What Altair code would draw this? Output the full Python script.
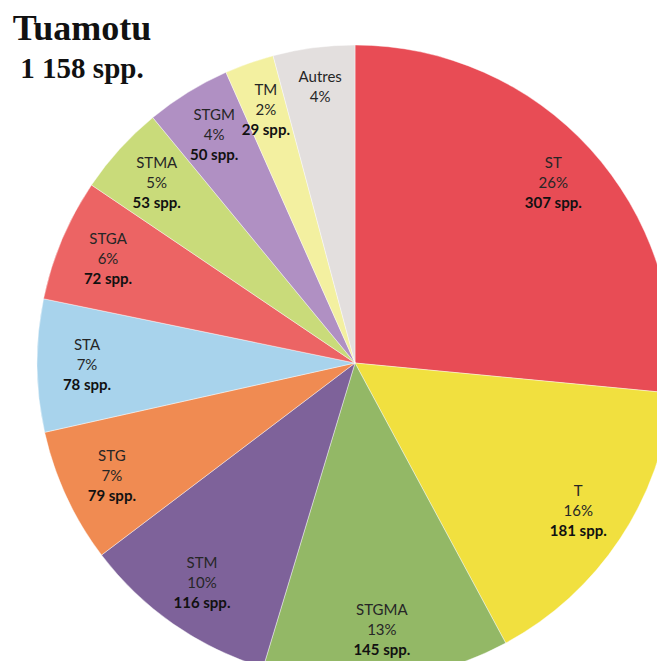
import altair as alt
import pandas as pd

categories = ["ST", "T", "STGMA", "STM", "STG", "STA", "STGA", "STMA", "STGM", "TM", "Autres"]
species = [307, 181, 145, 116, 79, 78, 72, 53, 50, 29, 48]
pct_labels = ["26%", "16%", "13%", "10%", "7%", "7%", "6%", "5%", "4%", "2%", "4%"]
count_labels = ["307 spp.", "181 spp.", "145 spp.", "116 spp.", "79 spp.", "78 spp.", "72 spp.", "53 spp.", "50 spp.", "29 spp.", ""]
colors = ["#E84C55", "#F1E03F", "#93B866", "#7E629A", "#F08B52", "#A8D3EC",
          "#EC6464", "#C9DB7A", "#B090C3", "#F3F0A0", "#E3DFDE"]
title_text = "Tuamotu"
subtitle_text = "1 158 spp."

df = pd.DataFrame({
    "cat": categories,
    "n": species,
    "pct": pct_labels,
    "cnt": count_labels,
    "idx": list(range(len(categories))),
})

CX, CY, R, RL = 347, 355, 318, 268
FONT = "Lato"
FS = 15

base = alt.Chart(df).encode(
    theta=alt.Theta("n:Q", stack=True),
    order=alt.Order("idx:Q"),
    x=alt.value(CX),
    y=alt.value(CY),
)

pie = base.mark_arc(radius=R, stroke="#ffffff", strokeWidth=0.7, strokeOpacity=0.6).encode(
    color=alt.Color("cat:N", scale=alt.Scale(domain=categories, range=colors), legend=None)
)

name_t = base.mark_text(radius=RL, dy=-20, font=FONT, fontSize=FS, color="#262626").encode(text="cat:N")
pct_t = base.mark_text(radius=RL, dy=0, font=FONT, fontSize=FS, color="#262626").encode(text="pct:N")
cnt_t = base.mark_text(radius=RL, dy=20, font=FONT, fontSize=FS, fontWeight="bold", color="#111111").encode(text="cnt:N")

title_df = pd.DataFrame({"t": [title_text], "s": [subtitle_text]})
t1 = alt.Chart(title_df).mark_text(font="Liberation Serif", fontSize=36, fontWeight="bold",
                                   color="#111111", align="center", baseline="alphabetic").encode(
    text="t:N", x=alt.value(74), y=alt.value(32))
t2 = alt.Chart(title_df).mark_text(font="Liberation Serif", fontSize=29, fontWeight="bold",
                                   color="#111111", align="center", baseline="alphabetic").encode(
    text="s:N", x=alt.value(74), y=alt.value(70))

chart = alt.layer(pie, name_t, pct_t, cnt_t, t1, t2).properties(
    width=649, height=653, padding=0, autosize=alt.AutoSizeParams(type="none")
).configure_view(stroke=None)

chart.save("out.html", embed_options={"renderer": "svg", "actions": False})
